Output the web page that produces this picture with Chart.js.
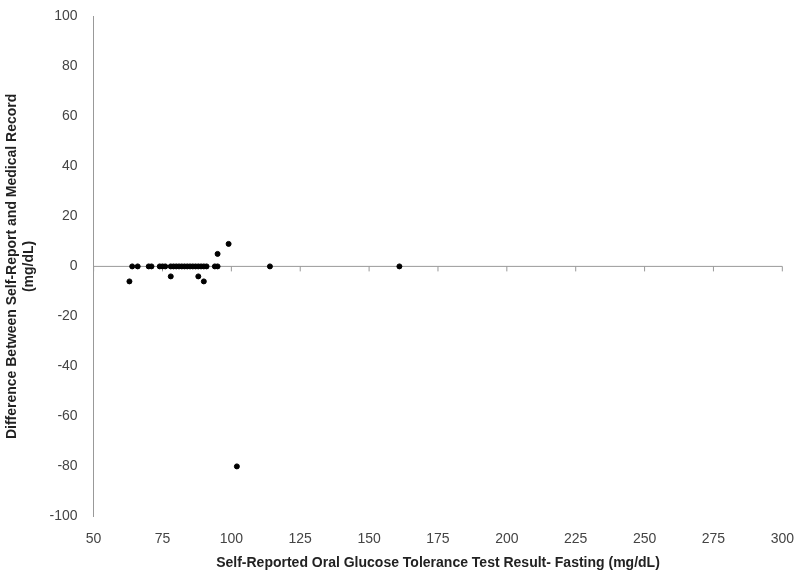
<!DOCTYPE html>
<html>
<head>
<meta charset="utf-8">
<script src="https://cdn.jsdelivr.net/npm/chart.js@4/dist/chart.umd.min.js"></script>
<style>
  body { margin: 0; background: #fff; }
</style>
</head>
<body>
<canvas id="c" width="800" height="580"></canvas>
<script>
// values
const xValues = [63, 64, 66, 70, 71, 74, 75, 76, 78, 78, 79, 80, 81, 82, 83, 84, 85, 86, 87, 88, 88, 89, 90, 90, 91, 94, 95, 95, 99, 102, 114, 161];
const yValues = [-6, 0, 0, 0, 0, 0, 0, 0, -4, 0, 0, 0, 0, 0, 0, 0, 0, 0, 0, 0, -4, 0, -6, 0, 0, 0, 0, 5, 9, -80, 0, 0];
const xTicks = [50, 75, 100, 125, 150, 175, 200, 225, 250, 275, 300];
const yTicks = [-100, -80, -60, -40, -20, 0, 20, 40, 60, 80, 100];

const points = xValues.map((x, i) => ({ x: x, y: yValues[i] }));

// gray axis line through y = 0 with tick marks, like the original
const zeroAxis = {
  id: 'zeroAxis',
  beforeDatasetsDraw(chart) {
    const { ctx, scales: { x, y } } = chart;
    const y0 = y.getPixelForValue(0);
    ctx.save();
    ctx.strokeStyle = '#999';
    ctx.lineWidth = 1;
    ctx.beginPath();
    ctx.moveTo(x.left, y0);
    ctx.lineTo(x.right, y0);
    xTicks.forEach(t => {
      const px = x.getPixelForValue(t);
      ctx.moveTo(px, y0);
      ctx.lineTo(px, y0 + 5);
    });
    ctx.stroke();
    ctx.restore();
  }
};

Chart.defaults.font.family = '"Liberation Sans", Arial, sans-serif';
Chart.defaults.color = '#444';

new Chart(document.getElementById('c'), {
  type: 'scatter',
  data: {
    datasets: [{
      data: points,
      backgroundColor: '#000',
      borderColor: '#000',
      pointRadius: 2.5,
      pointHoverRadius: 2.5
    }]
  },
  options: {
    responsive: false,
    animation: false,
    devicePixelRatio: 1,
    layout: { padding: { top: 7, right: 12, bottom: 4 } },
    plugins: { legend: { display: false }, tooltip: { enabled: false } },
    scales: {
      x: {
        type: 'linear',
        min: 50,
        max: 300,
        afterBuildTicks: axis => { axis.ticks = xTicks.map(v => ({ value: v })); },
        grid: { display: false },
        border: { display: false },
        ticks: { font: { size: 14 }, color: '#444', padding: 6, autoSkip: false, maxRotation: 0 },
        title: {
          display: true,
          text: 'Self-Reported Oral Glucose Tolerance Test Result- Fasting (mg/dL)',
          font: { size: 14, weight: 'bold' },
          color: '#222',
          padding: { top: 2 }
        }
      },
      y: {
        min: -100,
        max: 100,
        afterBuildTicks: axis => { axis.ticks = yTicks.map(v => ({ value: v })); },
        grid: { display: false },
        border: { display: true, color: '#999' },
        ticks: { font: { size: 14 }, color: '#444', padding: 8, autoSkip: false },
        title: {
          display: true,
          text: ['Difference Between Self-Report and Medical Record', '(mg/dL)'],
          font: { size: 14, weight: 'bold' },
          color: '#222',
          padding: { bottom: 4 }
        }
      }
    }
  },
  plugins: [zeroAxis]
});
</script>
</body>
</html>
